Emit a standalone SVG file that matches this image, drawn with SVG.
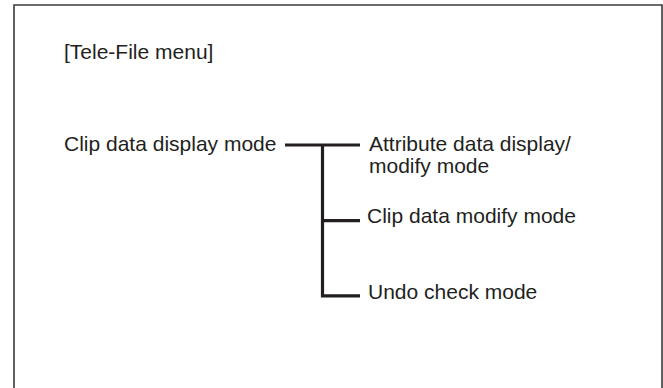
<svg xmlns="http://www.w3.org/2000/svg" width="663" height="388" viewBox="0 0 663 388">
<style>
  text { font-family: "Liberation Sans", Arial, sans-serif; font-size: 21px; fill: #231f20; }
  .frame { fill: none; stroke: #3a3a3a; stroke-width: 1.6; }
  .conn { fill: none; stroke: #231f20; stroke-width: 3.2; stroke-linecap: butt; stroke-linejoin: miter; }
</style>
<rect width="663" height="388" fill="#ffffff"/>
<path class="frame" d="M14,400 L14,5 L662,5 L662,400"/>
<g id="title"><text x="64" y="59">[Tele-File menu]</text></g>
<g id="clip-display"><text x="64" y="151">Clip data display mode</text></g>
<g id="attribute"><text x="369" y="151">Attribute data display/</text><text x="369" y="173">modify mode</text></g>
<g id="clip-modify"><text x="367" y="223">Clip data modify mode</text></g>
<g id="undo"><text x="368" y="299">Undo check mode</text></g>
<g id="connectors">
  <path class="conn" d="M285,145 L360,145"/>
  <path class="conn" d="M322.5,145 L322.5,295.9 L360,295.9"/>
  <path class="conn" d="M322.5,220.7 L360,220.7"/>
</g>
</svg>
